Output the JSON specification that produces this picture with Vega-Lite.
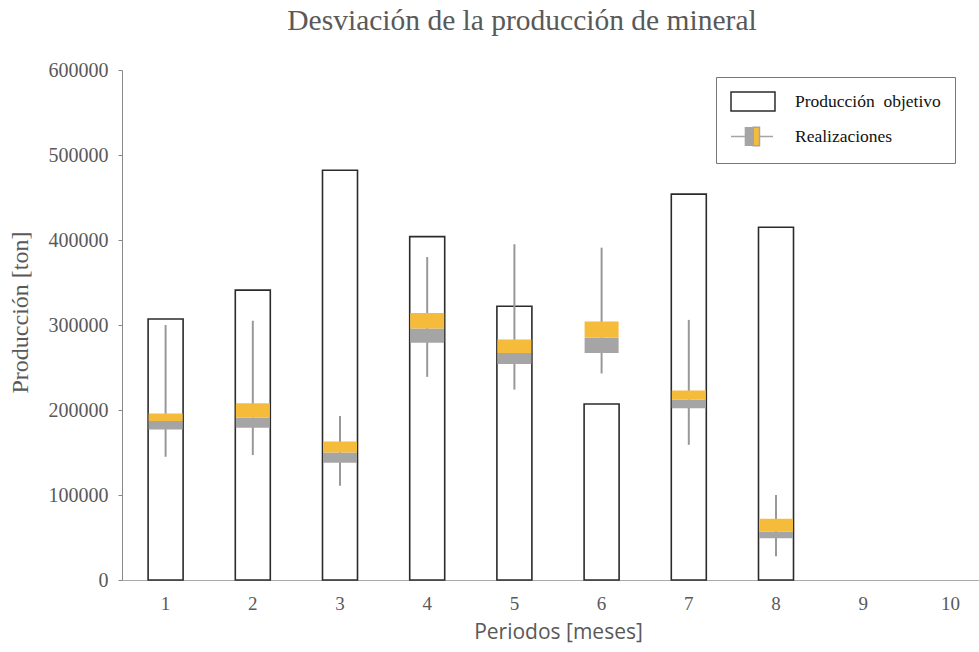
{
  "$schema": "https://vega.github.io/schema/vega-lite/v6.json",
  "autosize": {"type": "none"},
  "padding": {"left": 122, "top": 70, "right": 0, "bottom": 72},
  "width": 872,
  "height": 510,
  "title": {
    "text": "Desviación de la producción de mineral",
    "font": "Liberation Serif",
    "fontSize": 29.5,
    "fontWeight": "normal",
    "color": "#595959",
    "anchor": "middle",
    "dx": -36,
    "offset": 24
  },
  "data": {
    "values": [
      {"p": 1, "target": 307000, "min": 145000, "q1": 177000, "med": 187000, "q3": 196000, "max": 300000},
      {"p": 2, "target": 341000, "min": 147000, "q1": 179000, "med": 191000, "q3": 208000, "max": 305000},
      {"p": 3, "target": 482000, "min": 111000, "q1": 138000, "med": 150000, "q3": 163000, "max": 193000},
      {"p": 4, "target": 404000, "min": 239000, "q1": 279000, "med": 296000, "q3": 314000, "max": 380000},
      {"p": 5, "target": 322000, "min": 224000, "q1": 254000, "med": 267000, "q3": 283000, "max": 395000},
      {"p": 6, "target": 207000, "min": 243000, "q1": 267000, "med": 285000, "q3": 304000, "max": 391000},
      {"p": 7, "target": 454000, "min": 159000, "q1": 202000, "med": 212000, "q3": 223000, "max": 306000},
      {"p": 8, "target": 415000, "min": 28000, "q1": 49000, "med": 57000, "q3": 72000, "max": 100000}
    ]
  },
  "encoding": {
    "x": {
      "field": "p",
      "type": "ordinal",
      "scale": {"domain": [1, 2, 3, 4, 5, 6, 7, 8, 9, 10], "paddingInner": 0, "paddingOuter": 0},
      "axis": {
        "title": "Periodos [meses]",
        "titleFont": "Open Sans",
        "titleFontSize": 21,
        "titleFontWeight": "normal",
        "titleColor": "#595959",
        "titlePadding": 8,
        "titleX": 436,
        "labelFont": "Liberation Serif",
        "labelFontSize": 19,
        "labelColor": "#595959",
        "labelAngle": 0,
        "labelPadding": 14,
        "ticks": false,
        "domainColor": "#aaaaaa",
        "grid": false
      }
    }
  },
  "layer": [
    {
      "mark": {"type": "bar", "width": 35, "fill": "white", "stroke": "#2b2b2b", "strokeWidth": 1.6},
      "encoding": {
        "y": {
          "field": "target",
          "type": "quantitative",
          "scale": {"domain": [0, 600000]},
          "axis": {
            "title": "Producción [ton]",
            "titleFont": "Liberation Serif",
            "titleFontSize": 24,
            "titleFontWeight": "normal",
            "titleColor": "#595959",
            "titlePadding": 16,
            "titleY": 242,
            "labelFont": "Liberation Serif",
            "labelFontSize": 20,
            "labelColor": "#595959",
            "labelPadding": 10,
            "format": "d",
            "values": [0, 100000, 200000, 300000, 400000, 500000, 600000],
            "tickSize": 4,
            "tickColor": "#888888",
            "domainColor": "#888888",
            "grid": false
          }
        }
      }
    },
    {
      "mark": {"type": "rule", "strokeWidth": 2, "stroke": "#999999"},
      "encoding": {
        "y": {"field": "min", "type": "quantitative"},
        "y2": {"field": "max"}
      }
    },
    {
      "mark": {"type": "bar", "width": 34, "color": "#A5A5A5"},
      "encoding": {
        "y": {"field": "q1", "type": "quantitative"},
        "y2": {"field": "med"}
      }
    },
    {
      "mark": {"type": "bar", "width": 34, "color": "#F5BC3C"},
      "encoding": {
        "y": {"field": "med", "type": "quantitative"},
        "y2": {"field": "q3"}
      }
    },
    {
      "mark": {"type": "point", "filled": true, "opacity": 0},
      "encoding": {
        "y": {"field": "target", "type": "quantitative"},
        "shape": {
          "datum": "Producción objetivo",
          "scale": {"domain": ["Producción objetivo", "Realizaciones"], "range": ["M-1,-1H3.63V1H-1Z", "M-1,0H0.47M2.05,0H3.42M0.52,-1V1M0.6,-1V1M0.68,-1V1M0.76,-1V1M0.84,-1V1M0.92,-1V1M1,-1V1M1.08,-1V1M1.16,-1V1M1.22,-1V1M1.34,-0.97H2V0.97H1.34Z"]},
          "legend": {
            "title": null,
            "orient": "none",
            "legendX": 594,
            "legendY": 7,
            "padding": 14,
            "strokeColor": "#777777",
            "fillColor": "white",
            "cornerRadius": 0,
            "labelFont": "Liberation Serif",
            "labelFontSize": 17.5,
            "labelColor": "#111111",
            "labelOffset": 44,
            "labelExpr": "replace(datum.label, ' ', '\u00a0\u00a0')",
            "rowPadding": 10,
            "symbolSize": 361,
            "symbolOpacity": 1,
            "symbolStrokeWidth": 1.5
          }
        },
        "fill": {
          "datum": "Producción objetivo",
          "scale": {"domain": ["Producción objetivo", "Realizaciones"], "range": ["white", "#F5BC3C"]},
          "legend": {
            "title": null,
            "orient": "none",
            "legendX": 594,
            "legendY": 7,
            "padding": 14,
            "strokeColor": "#777777",
            "fillColor": "white",
            "cornerRadius": 0,
            "labelFont": "Liberation Serif",
            "labelFontSize": 17.5,
            "labelColor": "#111111",
            "labelOffset": 44,
            "labelExpr": "replace(datum.label, ' ', '\u00a0\u00a0')",
            "rowPadding": 10,
            "symbolSize": 361,
            "symbolOpacity": 1,
            "symbolStrokeWidth": 1.5
          }
        },
        "stroke": {
          "datum": "Producción objetivo",
          "scale": {"domain": ["Producción objetivo", "Realizaciones"], "range": ["#2b2b2b", "#A5A5A5"]},
          "legend": {
            "title": null,
            "orient": "none",
            "legendX": 594,
            "legendY": 7,
            "padding": 14,
            "strokeColor": "#777777",
            "fillColor": "white",
            "cornerRadius": 0,
            "labelFont": "Liberation Serif",
            "labelFontSize": 17.5,
            "labelColor": "#111111",
            "labelOffset": 44,
            "labelExpr": "replace(datum.label, ' ', '\u00a0\u00a0')",
            "rowPadding": 10,
            "symbolSize": 361,
            "symbolOpacity": 1,
            "symbolStrokeWidth": 1.5
          }
        }
      }
    }
  ],
  "config": {"view": {"stroke": null}}
}
